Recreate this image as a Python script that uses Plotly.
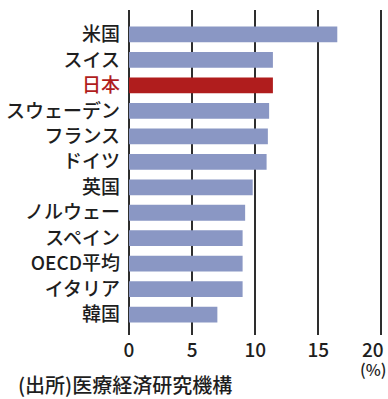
import plotly.graph_objects as go

countries = ["米国", "スイス", "日本", "スウェーデン", "フランス", "ドイツ", "英国",
             "ノルウェー", "スペイン", "OECD平均", "イタリア", "韓国"]
values = [16.5, 11.4, 11.4, 11.1, 11.0, 10.9, 9.8, 9.2, 9.0, 9.0, 9.0, 7.0]
x_ticks = [0, 5, 10, 15, 20]
x_ticklabels = ["0", "5", "10", "15", ""]  # "20" drawn separately, slightly left of its line

BLUE = "#8a97c4"
RED = "#b01d1d"
colors = [RED if c == "日本" else BLUE for c in countries]
ticktext = [f'<span style="color:{RED}">{c}</span>' if c == "日本" else c for c in countries]

FONT = "Noto Sans CJK JP"
fig = go.Figure(go.Bar(
    x=values, y=countries, orientation="h",
    marker=dict(color=colors, line=dict(width=0)),
    width=0.62,
))

fig.update_layout(
    width=388, height=399,
    margin=dict(l=129, r=4, t=10, b=64),
    paper_bgcolor="white", plot_bgcolor="white",
    font=dict(family=FONT, size=19, color="#1e1e1e", weight=500),
    showlegend=False,
)
fig.update_xaxes(
    range=[0, 20.2], tickvals=x_ticks, ticktext=x_ticklabels,
    showgrid=True, gridcolor="#2e2e2e", gridwidth=2,
    zeroline=True, zerolinecolor="#2e2e2e", zerolinewidth=2,
    ticks="", tickfont=dict(size=19, color="#1e1e1e"), ticklabelstandoff=2,
    fixedrange=True,
)
fig.update_yaxes(
    type="category", categoryorder="array", categoryarray=countries,
    range=[11.8, -0.96], tickvals=countries, ticktext=ticktext,
    showgrid=False, ticks="", ticklabelstandoff=8,
    tickfont=dict(size=19, color="#1e1e1e"),
)
fig.add_annotation(text=str(x_ticks[-1]), xref="x", yref="paper", x=x_ticks[-1], xshift=-8,
                   y=0, yshift=-13, yanchor="middle", borderpad=0,
                   showarrow=False, font=dict(size=19, color="#1e1e1e"))
fig.add_annotation(text="(%)", xref="x", yref="paper", x=x_ticks[-1], xshift=-8,
                   y=0, yshift=-34, yanchor="middle", borderpad=0,
                   showarrow=False, font=dict(size=16, color="#1e1e1e"))
fig.add_annotation(text="(出所)医療経済研究機構", xref="paper", yref="paper",
                   x=0, xshift=-112, y=0, yshift=-49, xanchor="left", yanchor="middle",
                   borderpad=0, showarrow=False, font=dict(size=20, color="#1e1e1e"))

fig.write_html("out.html")
